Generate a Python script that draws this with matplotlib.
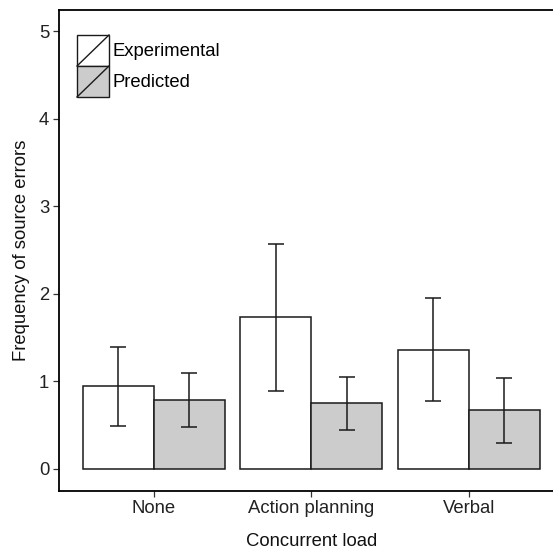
import numpy as np
import matplotlib
matplotlib.use('Agg')
import matplotlib.pyplot as plt
from matplotlib.patches import Rectangle
from matplotlib.lines import Line2D
from matplotlib.legend_handler import HandlerBase
from matplotlib.container import BarContainer

plt.rcParams['font.family'] = ['Liberation Sans', 'DejaVu Sans']
plt.rcParams['font.size'] = 13.3

# data
categories = ['None', 'Action planning', 'Verbal']
experimental = [0.95, 1.73, 1.36]
exp_lo = [0.49, 0.89, 0.77]
exp_hi = [1.39, 2.57, 1.95]
predicted = [0.79, 0.75, 0.67]
pred_lo = [0.48, 0.44, 0.29]
pred_hi = [1.10, 1.05, 1.04]
yticks = [0, 1, 2, 3, 4, 5]

W, H = 553, 555
fig = plt.figure(figsize=(W / 100, H / 100), dpi=100)
# panel is cut off on the right side in the original
left, right, top, bottom = 59, 563.4, 9.5, 490.7
ax = fig.add_axes([left / W, 1 - bottom / H, (right - left) / W, (bottom - top) / H])

x = np.arange(1, len(categories) + 1)
bw = 0.45
edge = '#1a1a1a'
ax.bar(x - bw / 2, experimental, width=bw, color='white', edgecolor=edge, linewidth=1.1,
       label='Experimental', zorder=2)
ax.bar(x + bw / 2, predicted, width=bw, color='#cccccc', edgecolor=edge, linewidth=1.1,
       label='Predicted', zorder=2)

e = np.array(experimental)
p = np.array(predicted)
ax.errorbar(x - bw / 2, e, yerr=[e - np.array(exp_lo), np.array(exp_hi) - e], fmt='none',
            ecolor=edge, elinewidth=1.1, capsize=5.5, capthick=1.1, zorder=3)
ax.errorbar(x + bw / 2, p, yerr=[p - np.array(pred_lo), np.array(pred_hi) - p], fmt='none',
            ecolor=edge, elinewidth=1.1, capsize=5.5, capthick=1.1, zorder=3)

ax.set_xlim(0.4, 3.6)
ax.set_ylim(-0.25, 5.25)
ax.set_xticks(x)
ax.set_xticklabels(categories)
ax.set_yticks(yticks)
ax.tick_params(length=4, width=0.9, color='#333333', labelcolor='#222222', pad=3)
for s in ['left', 'bottom', 'top', 'right']:
    ax.spines[s].set_linewidth(1.3)
    ax.spines[s].set_color('black')

ax.set_ylabel('Frequency of source errors', color='#111111')
ax.set_xlabel('Concurrent load', color='#111111')
ax.yaxis.set_label_coords(-29 / (right - left), 0.5)
ax.xaxis.set_label_coords(0.5, -(541 - bottom) / (bottom - top))
ax.xaxis.label.set_va('center')


class SlashHandler(HandlerBase):
    def create_artists(self, legend, orig, xd, yd, w, h, fontsize, trans):
        r = Rectangle((-xd, -yd), w, h, facecolor=orig.patches[0].get_facecolor(),
                      edgecolor='#1a1a1a', linewidth=1.0, transform=trans)
        l = Line2D([-xd, -xd + w], [-yd, -yd + h], color='#1a1a1a', linewidth=1.0,
                   transform=trans)
        return [r, l]


handles, labels = ax.get_legend_handles_labels()
fs = 13.3 / 0.72
ax.legend(handles, labels, handler_map={BarContainer: SlashHandler()},
          loc='upper left', bbox_to_anchor=(77 / W, 1 - 35 / H), bbox_transform=fig.transFigure,
          frameon=False, borderpad=0, borderaxespad=0, labelspacing=0,
          handlelength=32 / fs, handleheight=(31 / fs - 0.245) / 0.65, handletextpad=4 / fs)

fig.savefig('out.png', dpi=100)
